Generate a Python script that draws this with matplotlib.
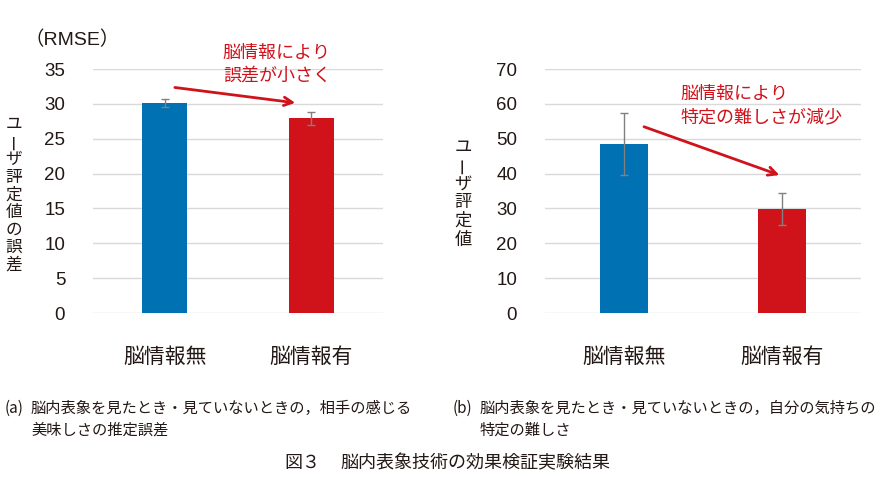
import matplotlib
matplotlib.use('Agg')
from matplotlib import pyplot as plt

plt.rcParams['font.family'] = ['Noto Sans CJK JP', 'DejaVu Sans']

categories = ['脳情報無', '脳情報有']
rmse = [30.1, 27.9]
rmse_err = [0.6, 1.0]
difficulty = [48.5, 29.8]
difficulty_err = [9.0, 4.6]
left_ticks = [0, 5, 10, 15, 20, 25, 30, 35]
right_ticks = [0, 10, 20, 30, 40, 50, 60, 70]

blue = '#0071b2'
red = '#d0121b'
ink = '#231815'
W, H = 890, 500
num_font = ['Liberation Sans Narrow', 'Liberation Sans', 'Noto Sans CJK JP']

fig = plt.figure(figsize=(8.9, 5), dpi=100)
ax1 = fig.add_axes([93 / W, 1 - 313 / H, 290 / W, 244 / H])
ax2 = fig.add_axes([545 / W, 1 - 313 / H, 316 / W, 244 / H])


def style(ax, vals, errs, ticks, xlim):
    x = range(len(vals))
    ax.bar(x, vals, width=0.31, color=[blue, red], zorder=2)
    ax.errorbar(x, vals, yerr=errs, fmt='none', ecolor='#808080',
                elinewidth=1, capsize=3, capthick=1, zorder=3)
    ax.set_ylim(ticks[0], ticks[-1])
    ax.set_yticks(ticks)
    ax.set_xlim(*xlim)
    ax.set_xticks(list(x))
    ax.set_xticklabels(categories, fontsize=15, color=ink)
    ax.tick_params(axis='x', length=0, pad=24)
    ax.tick_params(axis='y', length=0, pad=20, labelsize=13.5, labelcolor=ink)
    for lab in ax.get_yticklabels():
        lab.set_family(num_font)
    ax.grid(axis='y', color='#d9d9d9', linewidth=1, zorder=0)
    for s in ax.spines.values():
        s.set_visible(False)


style(ax1, rmse, rmse_err, left_ticks, (-0.49, 1.49))
style(ax2, difficulty, difficulty_err, right_ticks, (-0.5, 1.5))


def vlabel(text, x, y0, step, size):
    for i, ch in enumerate(text):
        fig.text(x / W, 1 - (y0 + i * step) / H, ch, fontsize=size, color=ink,
                 ha='center', va='center', rotation=90 if ch == 'ー' else 0)


vlabel('ユーザ評定値の誤差', 14, 124.5, 17.6, 12)
vlabel('ユーザ評定値', 463, 146.5, 18.6, 12.5)

fig.text(24 / W, 1 - 40 / H, '（RMSE）', fontsize=14, color=ink, ha='left',
         va='center', family=num_font)

# annotations
ax1.annotate('', xy=(0.91, 30.1), xytext=(0.05, 32.4),
             arrowprops=dict(arrowstyle='->', color=red, lw=2,
                             mutation_scale=15), annotation_clip=False)
ax1.text(0.765, 35.65, '脳情報により\n誤差が小さく', color=red, fontsize=13,
         ha='center', va='center', linespacing=1.35, clip_on=False)

ax2.annotate('', xy=(1.0, 39.3), xytext=(0.11, 53.7),
             arrowprops=dict(arrowstyle='->', color=red, lw=2,
                             mutation_scale=15), annotation_clip=False)
ax2.text(0.36, 59.5, '脳情報により\n特定の難しさが減少', color=red, fontsize=13,
         ha='left', va='center', linespacing=1.35, clip_on=False)

# captions
cap = dict(fontsize=11, color=ink, va='center')
fig.text(5 / W, 1 - 408 / H, '(a)', **cap)
fig.text(31 / W, 1 - 408 / H, '脳内表象を見たとき・見ていないときの，相手の感じる', **cap)
fig.text(31 / W, 1 - 430 / H, '美味しさの推定誤差', **cap)
fig.text(453 / W, 1 - 408 / H, '(b)', **cap)
fig.text(480 / W, 1 - 408 / H, '脳内表象を見たとき・見ていないときの，自分の気持ちの', **cap)
fig.text(480 / W, 1 - 430 / H, '特定の難しさ', **cap)
fig.text(284 / W, 1 - 463 / H, '図３', fontsize=13, color=ink, va='center')
fig.text(340 / W, 1 - 463 / H, '脳内表象技術の効果検証実験結果', fontsize=13,
         color=ink, va='center')

fig.savefig('out.png', dpi=100)
